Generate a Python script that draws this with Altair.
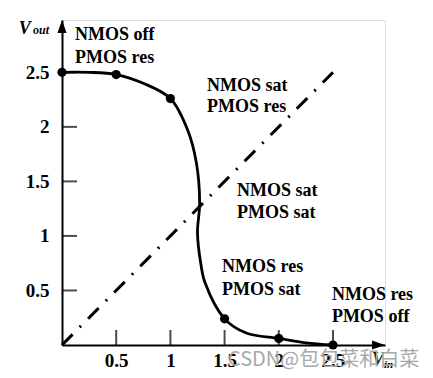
import altair as alt
import pandas as pd

# ---- data ----
curve_x = [0.0, 0.25, 0.5, 0.75, 1.0, 1.16, 1.24, 1.27, 1.25, 1.28, 1.32, 1.5, 1.7, 2.0, 2.25, 2.5]
curve_y = [2.5, 2.5, 2.48, 2.4, 2.26, 1.97, 1.67, 1.30, 1.03, 0.75, 0.57, 0.24, 0.11, 0.06, 0.02, 0.0]

dot_x = [0.0, 0.5, 1.0, 1.5, 2.0, 2.5]
dot_y = [2.5, 2.48, 2.26, 0.24, 0.06, 0.0]

diag_x = [0.0, 2.5]
diag_y = [0.0, 2.5]

tick_values = [0.5, 1.0, 1.5, 2.0, 2.5]

ann_text = ["NMOS off", "PMOS res", "NMOS sat", "PMOS res", "NMOS sat", "PMOS sat",
            "NMOS res", "PMOS sat", "NMOS res", "PMOS off"]
ann_x = [0.12, 0.12, 1.338, 1.338, 1.614, 1.614, 1.476, 1.476, 2.49, 2.49]
ann_y = [2.80, 2.587, 2.33, 2.138, 1.367, 1.165, 0.67, 0.459, 0.413, 0.211]

AX_MAX = 2.98
W, H = 323, 325
SERIF = "Liberation Serif"

xs = alt.Scale(domain=[0, AX_MAX], nice=False, zero=False)
ys = alt.Scale(domain=[0, AX_MAX], nice=False, zero=False)

curve = pd.DataFrame({"x": curve_x, "y": curve_y, "o": list(range(len(curve_x)))})
dots = pd.DataFrame({"x": dot_x, "y": dot_y})
diag = pd.DataFrame({"x": diag_x, "y": diag_y})
ticks = pd.DataFrame({"v": tick_values})
ann = pd.DataFrame({"t": ann_text, "x": ann_x, "y": ann_y})

xaxis = alt.Axis(values=tick_values, format="~g", ticks=False, grid=False, title=None,
                 domainColor="black", domainWidth=2, labelFont=SERIF, labelFontSize=19,
                 labelFontWeight="bold", labelColor="black", labelPadding=6)
yaxis = alt.Axis(values=tick_values, format="~g", ticks=False, grid=False, title=None,
                 domainColor="black", domainWidth=2, labelFont=SERIF, labelFontSize=19,
                 labelFontWeight="bold", labelColor="black", labelPadding=13)

base_axes = alt.Chart(diag).mark_point(opacity=0).encode(
    x=alt.X("x:Q", scale=xs, axis=xaxis),
    y=alt.Y("y:Q", scale=ys, axis=yaxis),
)

diag_line = alt.Chart(diag).mark_line(color="black", strokeWidth=3, strokeDash=[15, 10, 2, 10]).encode(
    x=alt.X("x:Q", scale=xs), y=alt.Y("y:Q", scale=ys))

curve_line = alt.Chart(curve).mark_line(color="black", strokeWidth=2.8, interpolate="catmull-rom").encode(
    x=alt.X("x:Q", scale=xs), y=alt.Y("y:Q", scale=ys), order="o:O")

dot_layer = alt.Chart(dots).mark_circle(color="black", size=85, opacity=1).encode(
    x=alt.X("x:Q", scale=xs), y=alt.Y("y:Q", scale=ys))

xticks = alt.Chart(ticks).mark_tick(color="black", orient="vertical", size=15, thickness=2, yOffset=-7.5).encode(
    x=alt.X("v:Q", scale=xs), y=alt.datum(0, scale=ys))
yticks = alt.Chart(ticks).mark_tick(color="black", orient="horizontal", size=15, thickness=2, xOffset=7.5).encode(
    y=alt.Y("v:Q", scale=ys), x=alt.datum(0, scale=xs))

arrow_up = alt.Chart(pd.DataFrame({"x": [0.0], "y": [2.92]})).mark_point(
    shape="M-0.7,1L0,-1L0.7,1Z", filled=True, color="black", size=169, opacity=1).encode(
    x=alt.X("x:Q", scale=xs), y=alt.Y("y:Q", scale=ys))
arrow_right = alt.Chart(pd.DataFrame({"x": [2.92], "y": [0.0]})).mark_point(
    shape="M-1,-0.7L1,0L-1,0.7Z", filled=True, color="black", size=169, opacity=1).encode(
    x=alt.X("x:Q", scale=xs), y=alt.Y("y:Q", scale=ys))

ann_layer = alt.Chart(ann).mark_text(font=SERIF, fontSize=18, fontWeight="bold", align="left",
                                     baseline="alphabetic", color="black").encode(
    x=alt.X("x:Q", scale=xs), y=alt.Y("y:Q", scale=ys), text="t:N")

def label(t, x, y, size, italic=True, font=SERIF, color="black", weight="bold"):
    return alt.Chart(pd.DataFrame({"t": [t], "x": [x], "y": [y]})).mark_text(
        font=font, fontSize=size, fontStyle="italic" if italic else "normal", fontWeight=weight,
        align="left", baseline="alphabetic", color=color).encode(
        x=alt.X("x:Q", scale=xs), y=alt.Y("y:Q", scale=ys), text="t:N")

vout_v = label("V", -0.40, 2.853, 18)
vout_s = label("out", -0.268, 2.853, 12)
vin_v = label("V", 2.86, -0.183, 18)
vin_s = label("in", 2.97, -0.211, 11)
watermark = label("CSDN@包包菜和白菜", 1.531, -0.193, 20, italic=False,
                  font="Noto Sans CJK SC", color="#a8a8a8", weight="normal")

chart = alt.layer(base_axes, diag_line, curve_line, dot_layer, xticks, yticks, arrow_up, arrow_right,
                  ann_layer, vout_v, vout_s, vin_v, vin_s, watermark).properties(
    width=W, height=H, autosize=alt.AutoSizeParams(type="none"),
    padding={"left": 54, "top": 12, "right": 40, "bottom": 25},
).configure_view(stroke=None).configure(background="white")

chart.save("out.html", embed_options={"renderer": "svg", "actions": False})
